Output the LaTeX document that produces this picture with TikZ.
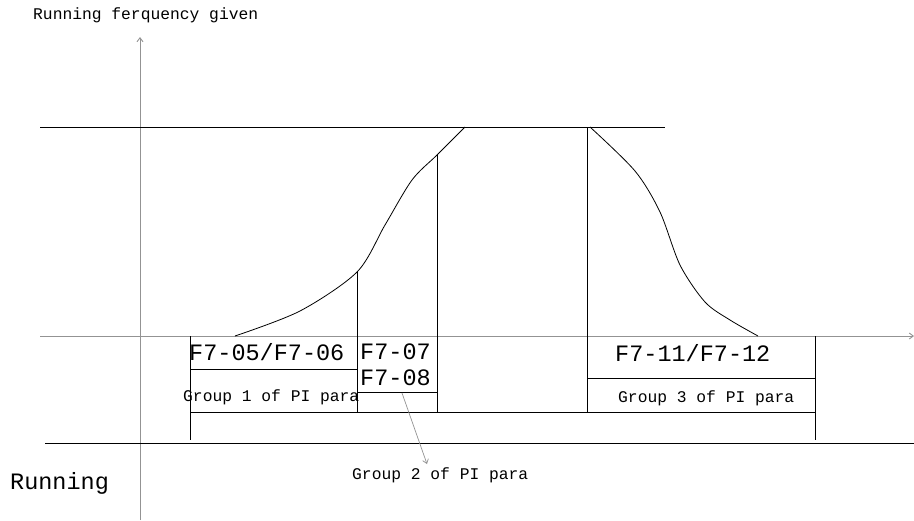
\documentclass[tikz,border=0pt]{standalone}
\usepackage{fontspec}
\setmonofont{Liberation Mono}
\usetikzlibrary{arrows.meta}

\begin{document}
\begin{tikzpicture}[x=1pt,y=-1pt,>={Straight Barb[length=4pt,width=6pt]}]
  \tikzstyle{axis}=[gray!85,line width=0.9pt,->]
  \tikzstyle{edge}=[black,line width=1pt]
  \tikzstyle{curve}=[black,line width=0.8pt]
  \tikzstyle{small}=[font=\ttfamily\fontsize{16.3}{18}\selectfont,inner sep=0pt,anchor=west]
  \tikzstyle{big}=[font=\ttfamily\fontsize{23.5}{26}\selectfont,inner sep=0pt,anchor=west]
  \useasboundingbox (0,0) rectangle (914,520);
  % axes
  \draw[axis] (140,520) -- (140,37);
  \draw[axis] (40,336) -- (914,336);
  \draw[edge] (40,127) -- (665,127);
  \draw[edge] (45,443) -- (914,443);
  % frequency curves
  \draw[curve] plot[smooth] coordinates {(235,336) (300,311) (357,272) (385,225) (412,180) (437,155) (465,127)};
  \draw[curve] plot[smooth] coordinates {(590,127) (635,171) (660,212) (680,265) (705,302) (730,320) (758,336)};
  % parameter boxes
  \draw[edge] (190,336) -- (190,440);
  \draw[edge] (357,272) -- (357,412);
  \draw[edge] (437,155) -- (437,412);
  \draw[edge] (587,127) -- (587,412);
  \draw[edge] (815,336) -- (815,440);
  \draw[edge] (190,369) -- (357,369);
  \draw[edge] (357,392) -- (437,392);
  \draw[edge] (587,378) -- (815,378);
  \draw[edge] (190,412) -- (815,412);
  % labels
  \node[small] (title) at (33,15) {Running ferquency given};
  \node[big] (f0506) at (189,352) {F7-05/F7-06};
  \node[big] (f07) at (360,352) {F7-07};
  \node[big] (f08) at (360,378) {F7-08};
  \node[big] (f1112) at (615,353) {F7-11/F7-12};
  \node[small] (g1) at (183,397) {Group 1 of PI para};
  \node[small] (g3) at (618,398) {Group 3 of PI para};
  \node[small] (g2) at (352,475) {Group 2 of PI para};
  \node[big] (run) at (10,483) {Running};
  \coordinate (g2tail) at (402,393);
  \coordinate (g2tip) at (427,464);
  \draw[gray!85,line width=0.7pt,->] (g2tail) -- (g2tip);
\end{tikzpicture}
\end{document}
